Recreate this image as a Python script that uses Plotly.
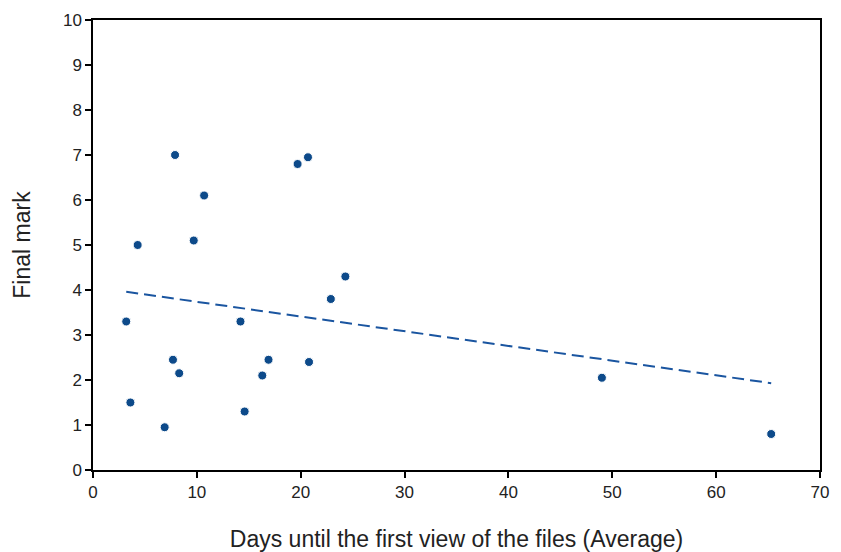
import plotly.graph_objects as go

days = [3.2, 3.6, 4.3, 6.9, 7.7, 7.9, 8.3, 9.7, 10.7, 14.2, 14.6, 16.3, 16.9,
        19.7, 20.7, 20.8, 22.9, 24.3, 49.0, 65.3]
marks = [3.3, 1.5, 5.0, 0.95, 2.45, 7.0, 2.15, 5.1, 6.1, 3.3, 1.3, 2.1, 2.45,
         6.8, 6.95, 2.4, 3.8, 4.3, 2.05, 0.8]
trend_x = [3.2, 65.3]
trend_y = [3.96, 1.93]

x_ticks = [0, 10, 20, 30, 40, 50, 60, 70]
y_ticks = [0, 1, 2, 3, 4, 5, 6, 7, 8, 9, 10]

color = "#0d4a8a"

fig = go.Figure()
fig.add_trace(go.Scatter(x=trend_x, y=trend_y, mode="lines",
                         line=dict(color="#1a55a0", width=2, dash="12px,6px"),
                         hoverinfo="skip", showlegend=False))
fig.add_trace(go.Scatter(x=days, y=marks, mode="markers",
                         marker=dict(color=color, size=9,
                                     line=dict(color="white", width=1)),
                         showlegend=False))

axis_common = dict(showgrid=False, zeroline=False, showline=True, mirror=True,
                   linecolor="black", linewidth=1.5, ticks="outside",
                   ticklen=6, tickwidth=1.5, tickcolor="black", automargin=False,
                   tickfont=dict(family="Liberation Sans, Arial", size=17, color="#222"))

fig.update_layout(
    width=841, height=552,
    margin=dict(l=93, r=21, t=20, b=82),
    paper_bgcolor="white", plot_bgcolor="white",
    font=dict(family="Liberation Sans, Arial", color="#222"),
    xaxis=dict(range=[0, 70], tickvals=x_ticks,
               title=dict(text="Days until the first view of the files (Average)",
                          font=dict(size=23), standoff=30),
               **axis_common),
    yaxis=dict(range=[0, 10], tickvals=y_ticks,
               title=dict(text="Final mark", font=dict(size=23), standoff=26),
               **axis_common),
)

fig.write_html("out.html")
